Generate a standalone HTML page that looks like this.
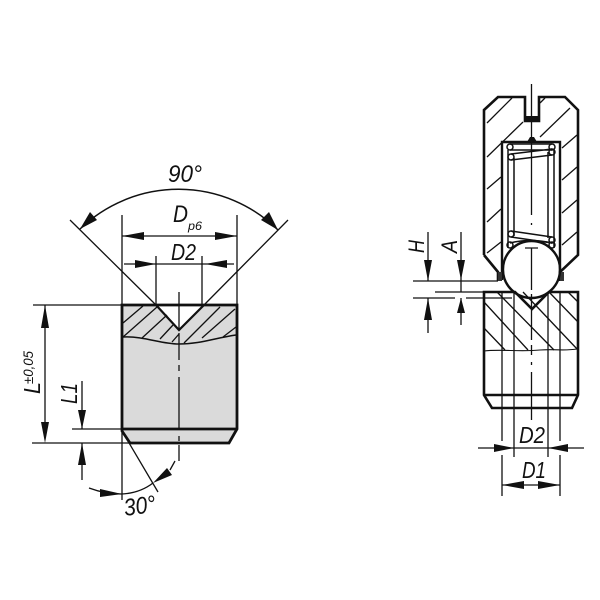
<!DOCTYPE html>
<html><head><meta charset="utf-8"><style>
html,body{margin:0;padding:0;background:#fff}
svg{display:block}
text{font-family:"Liberation Sans",sans-serif;font-style:italic;fill:#111}
</style></head><body>
<svg width="600" height="600" viewBox="0 0 600 600" xmlns="http://www.w3.org/2000/svg">
<rect width="600" height="600" fill="#fff"/>
<!-- LEFT VIEW -->
<path d="M122 305H156L179 330L204 305H237V429L229 443H130L122 431Z" fill="#dadada"/>
<g fill="none" stroke="#111" stroke-width="1.3">
<path d="M123 323L143 306M123 337L157 307M142 338L167 315M160 339L173 325M172 342L179 334M184 343L220 307M202 338L235 309M223 337L236 327"/>
<path d="M123 337C145 336 160 344 179 344C200 344 215 338 236 335" stroke-width="1.5"/>
<path d="M70 220L156 305M288 220L204 305"/>
<path d="M80 229A142 142 0 0 1 278 230" stroke-width="1.5"/>
<path d="M122 215V305M237 215V305M122 236H237M124 264H234M156 256V305M202 256V305"/>
<path d="M33 305H122M32 443H130M72 429H122M45 305V425M82 381V429M82 443V480"/>
<path d="M179 292V330M179 333V360M179 365V371M179 377V430M179 436V441M179 445V461"/>
<path d="M122 430V500M122 431L158 492M89 488Q105 494 122 494Q140 493 153 483M170 470L175 461"/>
</g>
<path d="M156 305L179 330L204 305" fill="none" stroke="#111" stroke-width="2.2"/>
<path d="M122 305H237V429L229 443H130L122 431Z" fill="none" stroke="#111" stroke-width="2.8"/>
<path d="M122 429H237" stroke="#111" stroke-width="2.8"/>
<g fill="#111">
<path d="M80 229L90 212L97 220Z M278 230L261 220L269 212Z"/>
<path d="M122 236L144 232V240Z M237 236L215 232V240Z"/>
<path d="M156 264L135 260V268Z M205 264L227 260V268Z"/>
<path d="M45 305L41 328H49Z M45 443L41 422H49Z"/>
<path d="M82 429L78 410H86Z M82 443L78 465H86Z"/>
<path d="M122 494L100 489L100 497Z M153 483L167 468L172 475Z"/>
</g>
<text x="168" y="182" font-size="24" textLength="34" lengthAdjust="spacingAndGlyphs">90°</text>
<text x="173" y="222" font-size="24" textLength="15" lengthAdjust="spacingAndGlyphs">D</text>
<text x="188" y="230" font-size="12" textLength="14" lengthAdjust="spacingAndGlyphs">p6</text>
<text x="171" y="260" font-size="23" textLength="25" lengthAdjust="spacingAndGlyphs">D2</text>
<text transform="translate(40 394) rotate(-90)" font-size="23" textLength="12" lengthAdjust="spacingAndGlyphs">L</text>
<text transform="translate(33 384) rotate(-90)" font-size="14" textLength="33" lengthAdjust="spacingAndGlyphs">±0,05</text>
<text transform="translate(77 404) rotate(-90)" font-size="23" textLength="21" lengthAdjust="spacingAndGlyphs">L1</text>
<text transform="translate(125 516) rotate(-8)" font-size="24" textLength="32" lengthAdjust="spacingAndGlyphs">30°</text>
<!-- RIGHT VIEW upper -->
<g fill="none" stroke="#111" stroke-width="1.3">
<path d="M487 123L512 98M487 157L523 122M487 189L501 177M487 222L501 209M487 253L501 242M540 137L570 108M540 103L545 98M562 148L577 135M562 180L577 167M562 213L577 200M562 245L577 232"/>
<path d="M531.500 84V116M531.500 122V215M531.500 223V225M531.500 248V290M525 248H538M531.500 294V340M531.500 345V355M531.500 362V365M531.500 372V420"/>
</g>
<path d="M484 255V110L498 97H525V121H539V97H565L578 110V255L560 272V281M484 255L498 272V281" fill="none" stroke="#111" stroke-width="2.6"/>
<path d="M525 118.500H539" stroke="#111" stroke-width="5"/>
<path d="M502 280V142H560V280" fill="none" stroke="#111" stroke-width="2.4"/>
<path d="M527 142L530 137H534L537 142Z" fill="#111"/>
<path d="M498 272H502V281H498ZM560 272H564V281H560Z" fill="#333"/>
<g fill="none" stroke="#111" stroke-width="1.5">
<path d="M508 150V248M514 158V236M548 152V238M554 150V248"/>
<path d="M510 144H552M510 150H552M511 154L552 149M511 160L552 155M511 231L552 237M511 237L552 243"/>
<path d="M510 243Q530 238 552 243"/>
<circle cx="510" cy="147" r="3"/><circle cx="552" cy="147" r="3"/>
<circle cx="511" cy="157" r="3"/><circle cx="552" cy="152" r="3"/>
<circle cx="511" cy="234" r="3"/><circle cx="552" cy="240" r="3"/>
<circle cx="510" cy="245" r="3"/><circle cx="552" cy="245" r="3"/>
</g>
<!-- lower -->
<g fill="none" stroke="#111" stroke-width="1.3">
<path d="M484 302L528 350M497 292L554 350M523 292L578 350M549 292L578 322M568 292L578 302M484 328L505 350"/>
<path d="M484 351C500 349 520 352 540 350C555 349 565 351 577 349" stroke-width="1.1"/>
<path d="M502 292V441M502 455V496M514 292V457M548 292V457M560 292V441M560 455V496"/>
<path d="M478 448H584M502 485H560"/>
<path d="M413 281H498M435 292H484M413 298H455M466 298H512M428 232V281M428 298V333M461 232V292M461 298V325"/>
</g>
<circle cx="531.500" cy="269.500" r="28.500" fill="none" stroke="#111" stroke-width="2.4"/>
<path d="M484 395V292H515L532 309L549 292H578V395L572 408H492Z" fill="none" stroke="#111" stroke-width="2.6"/>
<path d="M484 395H578" stroke="#111" stroke-width="2.6"/>
<g fill="#111">
<path d="M514 448L494 444V452Z M548 448L568 444V452Z"/>
<path d="M502 485L524 481V489Z M560 485L538 481V489Z"/>
<path d="M428 281L424 260H432Z M428 298L424 320H432Z"/>
<path d="M461 280L457 260H465Z M461 298L457 313H465Z"/>
</g>
<text x="519" y="443" font-size="23" textLength="26" lengthAdjust="spacingAndGlyphs">D2</text>
<text x="522" y="478" font-size="23" textLength="24" lengthAdjust="spacingAndGlyphs">D1</text>
<text transform="translate(424 253) rotate(-90)" font-size="22" textLength="13" lengthAdjust="spacingAndGlyphs">H</text>
<text transform="translate(457 253) rotate(-90)" font-size="22" textLength="13" lengthAdjust="spacingAndGlyphs">A</text>
</svg>
</body></html>
